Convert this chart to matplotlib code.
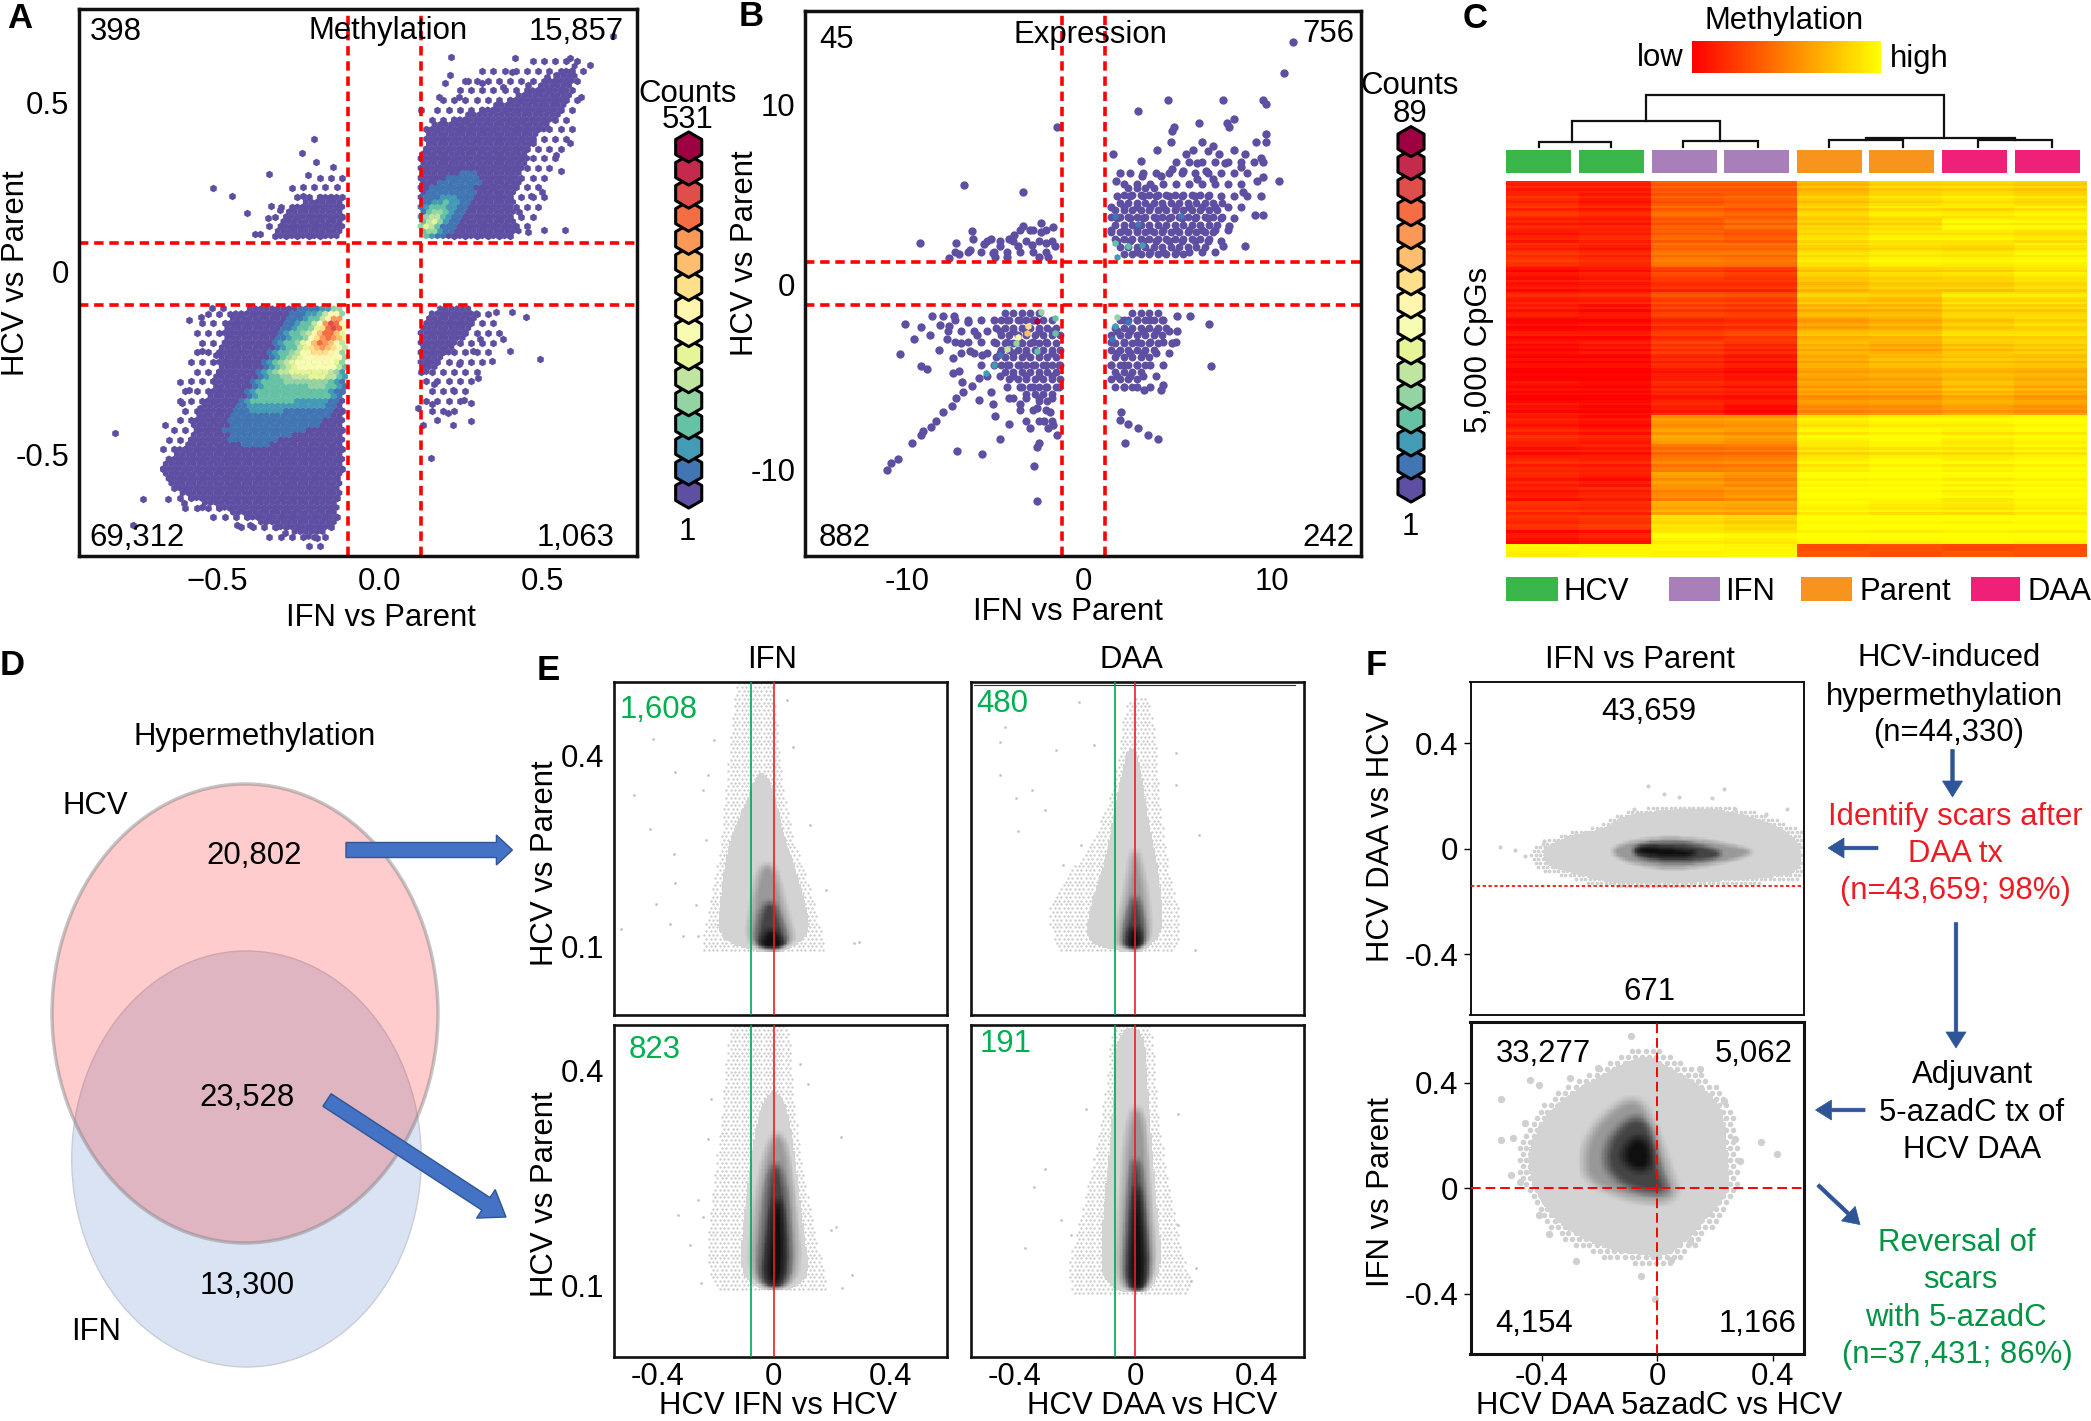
import numpy as np
import matplotlib
matplotlib.use("Agg")
import matplotlib.pyplot as plt
from matplotlib.colors import LinearSegmentedColormap
from matplotlib.patches import Ellipse, FancyArrow, Rectangle
from matplotlib.path import Path
from matplotlib.transforms import ScaledTranslation

plt.rcParams["font.family"] = ["Liberation Sans", "DejaVu Sans"]

W, H = 2091, 1421

# ---- panel A: density regions, (colour level, outline)
a_regions = [
    (0, [(-0.11, -0.094), (-0.446, -0.094), (-0.475, -0.153), (-0.49, -0.224), (-0.517, -0.33), (-0.567, -0.424),
         (-0.60, -0.494), (-0.66, -0.535), (-0.673, -0.576), (-0.61, -0.635), (-0.503, -0.676), (-0.375, -0.712),
         (-0.262, -0.741), (-0.198, -0.765), (-0.11, -0.706)]),
    (1, [(-0.177, -0.094), (-0.276, -0.094), (-0.333, -0.224), (-0.404, -0.341), (-0.475, -0.424), (-0.475, -0.465),
         (-0.404, -0.518), (-0.291, -0.471), (-0.105, -0.412), (-0.105, -0.094)]),
    (3, [(-0.156, -0.094), (-0.248, -0.129), (-0.305, -0.224), (-0.376, -0.329), (-0.425, -0.388), (-0.333, -0.388),
         (-0.105, -0.359), (-0.105, -0.094)]),
    (5, [(-0.135, -0.094), (-0.205, -0.153), (-0.276, -0.247), (-0.333, -0.306), (-0.105, -0.318), (-0.105, -0.094)]),
    (7, [(-0.128, -0.1), (-0.191, -0.165), (-0.262, -0.247), (-0.291, -0.276), (-0.205, -0.3), (-0.105, -0.276)]),
    (10, [(-0.128, -0.1), (-0.184, -0.165), (-0.227, -0.224), (-0.177, -0.241), (-0.105, -0.2)]),
    (12, [(-0.123, -0.104), (-0.177, -0.153), (-0.213, -0.2), (-0.184, -0.224), (-0.105, -0.165)]),
    (15, [(-0.128, -0.106), (-0.163, -0.141), (-0.142, -0.171), (-0.105, -0.141)]),
    (0, [(0.128, 0.094), (0.446, 0.094), (0.404, 0.176), (0.446, 0.294), (0.475, 0.388), (0.56, 0.447), (0.602, 0.541),
         (0.613, 0.612), (0.531, 0.559), (0.39, 0.494), (0.248, 0.447), (0.128, 0.424)]),
    (1, [(0.128, 0.1), (0.227, 0.1), (0.319, 0.271), (0.305, 0.304), (0.191, 0.276), (0.128, 0.224)]),
    (3, [(0.128, 0.1), (0.17, 0.1), (0.248, 0.212), (0.227, 0.235), (0.163, 0.2), (0.128, 0.153)]),
    (7, [(0.132, 0.1), (0.156, 0.118), (0.191, 0.176), (0.17, 0.182), (0.132, 0.135)]),
    (0, [(-0.109, 0.094), (-0.319, 0.094), (-0.319, 0.129), (-0.262, 0.2), (-0.177, 0.224), (-0.12, 0.235), (-0.109, 0.165)]),
    (0, [(0.128, -0.094), (0.333, -0.094), (0.262, -0.188), (0.191, -0.247), (0.128, -0.318)]),
]
# thin fringes round the solid regions
a_fringes = [
    [(-0.109, -0.094), (-0.56, -0.094), (-0.58, -0.2), (-0.6, -0.33), (-0.66, -0.47), (-0.69, -0.56), (-0.64, -0.66), (-0.5, -0.71),
     (-0.37, -0.75), (-0.25, -0.78), (-0.19, -0.8), (-0.109, -0.72)],
    [(0.128, 0.094), (0.47, 0.094), (0.52, 0.25), (0.58, 0.35), (0.62, 0.52), (0.64, 0.6), (0.58, 0.63), (0.42, 0.6), (0.25, 0.57),
     (0.2, 0.5), (0.128, 0.48)],
    [(-0.109, 0.094), (-0.38, 0.094), (-0.27, 0.24), (-0.14, 0.3), (-0.109, 0.3)],
    [(0.128, -0.094), (0.42, -0.094), (0.33, -0.28), (0.24, -0.42), (0.128, -0.44)],
]
a_points_x = [-0.514, -0.453, -0.408, -0.34, -0.239, -0.201, -0.194, -0.142, -0.22, -0.269, -0.333, -0.305, -0.344, -0.383, -0.368, -0.234,
              0.723, 0.652, 0.588, 0.418, 0.222, 0.411, 0.22, 0.276, 0.319, 0.205, 0.184, 0.128, 0.248, 0.517, 0.623, 0.588, 0.546, 0.56,
              0.475, 0.503, 0.468, 0.432, 0.574, 0.51, 0.46, 0.383, 0.46, 0.546,
              -0.815, -0.73, -0.758, -0.662, -0.614, -0.588, -0.55, -0.517, -0.482, -0.546, -0.503, -0.588, -0.609, -0.553, -0.397, -0.439,
              -0.29, -0.319, -0.191, -0.546, -0.602, -0.652,
              0.496, 0.404, 0.383, 0.453, 0.411, 0.361, 0.305, 0.347, 0.283, 0.283, 0.227, 0.213, 0.163, 0.12, 0.135, 0.159, 0.262, 0.227,
              0.17, 0.312, 0.29, 0.248]
a_points_y = [0.247, 0.224, 0.174, 0.286, 0.347, 0.385, 0.321, 0.306, 0.282, 0.247, 0.194, 0.182, 0.159, 0.112, 0.112, 0.224,
              0.682, 0.598, 0.618, 0.62, 0.621, 0.579, 0.571, 0.553, 0.547, 0.547, 0.506, 0.471, 0.506, 0.565, 0.506, 0.374, 0.341, 0.294,
              0.376, 0.235, 0.224, 0.176, 0.124, 0.124, 0.118, 0.535, 0.541, 0.571,
              -0.459, -0.647, -0.724, -0.435, -0.312, -0.135, -0.124, -0.1, -0.1, -0.224, -0.235, -0.335, -0.371, -0.388, -0.724, -0.724,
              -0.747, -0.729, -0.759, -0.671, -0.659, -0.647,
              -0.247, -0.224, -0.188, -0.124, -0.112, -0.112, -0.3, -0.253, -0.371, -0.424, -0.435, -0.4, -0.376, -0.388, -0.435, -0.529,
              -0.365, -0.335, -0.318, -0.188, -0.224, -0.259]

# ---- panel B
b_regions = [
    [(1.34, 1.3), (6.44, 1.52), (7.2, 3.1), (7.95, 4.2), (6.7, 5.4), (4.2, 5.3), (2.65, 5.6), (1.34, 4.9)],
    [(-4.92, -1.43), (-1.26, -1.43), (-1.26, -5.07), (-1.64, -6.43), (-2.65, -6.89), (-3.66, -5.75), (-4.92, -4.61),
     (-4.92, -3.25), (-5.18, -2.34)],
    [(1.34, -1.43), (4.43, -1.43), (4.92, -2.57), (3.66, -3.93), (3.16, -5.3), (2.4, -6.09), (1.34, -5.98)],
]
b_sparse = [
    [(-7.9, -1.4), (-1.3, -1.4), (-1.3, -8), (-3, -8.2), (-4.6, -6.2), (-6, -4.5), (-8, -3)],
    [(1.34, 1.3), (8, 1.5), (8.4, 3.5), (9.3, 5.5), (9.5, 7.2), (8, 7.3), (6, 7.6), (4, 6.4), (2, 6.2), (1.34, 5)],
    [(1.34, -1.4), (5, -1.4), (5.3, -3.3), (4, -5.6), (3, -6.2), (1.34, -6.2)],
    [(-8, 1.45), (-1.3, 1.45), (-1.3, 3.3), (-3.5, 3.3), (-6, 2.3)],
]
b_points = [(11.44, 13.5), (10.96, 11.77), (4.57, 10.27), (7.58, 10.27), (9.8, 10.27), (9.97, 10.05), (2.95, 9.64), (6.31, 8.98),
            (4.92, 8.75), (4.8, 8.52), (7.83, 8.98), (8.2, 9.18), (7.95, 8.75), (9.95, 8.34), (9.97, 7.93), (9.42, 7.93), (4.72, 7.93),
            (6.44, 7.89), (7.07, 7.7), (5.93, 7.48), (5.56, 7.27), (3.96, 7.48), (1.57, 7.27), (3.08, 6.84), (8.2, 7.48), (8.84, 7.27),
            (7.4, 7.27), (9.72, 7.05), (9.8, 6.82), (10.68, 5.77), (9.8, 5.98), (9.47, 5.77), (7.7, 6.75), (6.69, 6.3), (6.19, 6.75),
            (8.59, 6.52), (8.71, 5.16), (9.72, 4.93), (9.34, 3.84), (9.8, 3.84), (7.95, 3.23), (8.84, 2.14), (7.58, 2.14), (1.94, 6.2),
            (1.74, 5.77), (3.16, 6.02), (4.8, 6.41), (4.17, 6.02), (5.43, 6.3), (7.07, 5.84), (6.19, 5.84),
            (-1.54, 8.77), (-6.64, 5.55), (-3.41, 5.11), (-9.09, 2.32), (-7.07, 2.32), (-6.19, 2.98), (-6.14, 2.55), (-5.18, 2.55),
            (-3.41, 3.23), (-2.4, 3.39), (-1.77, 3.2), (-4.17, 2.55), (-4.67, 2.14), (-7.45, 1.48), (-6.94, 1.7), (-6.31, 1.93),
            (-5.56, 2.25), (-4.92, 1.52), (-4.29, 1.52), (-3.66, 2.14), (-2.9, 2.2), (-2.4, 2.89), (-2.02, 1.52), (-1.64, 2.14),
            (-2.53, 1.52), (-3.91, 2.77), (-3.03, 3.0), (-2.15, 2.32), (-5.05, 1.75),
            (-10.91, -10.34), (-10.66, -9.91), (-10.28, -9.7), (-9.52, -8.84), (-9.02, -8.39), (-8.89, -8.14), (-8.46, -7.91),
            (-8.21, -7.57), (-7.78, -7.11), (-7.32, -6.77), (-7.07, -6.32), (-6.69, -5.98), (-6.19, -5.64), (-5.81, -5.18),
            (-9.9, -2.18), (-9.04, -2.39), (-9.39, -3.02), (-10.15, -3.89), (-9.04, -4.52), (-8.66, -4.73), (-8.51, -2.8), (-8.0, -3.64),
            (-7.27, -4.09), (-7.25, -4.95), (-6.94, -4.84), (-6.77, -5.41), (-8.41, -1.73), (-7.83, -1.73), (-7.2, -1.73), (-7.95, -2.23),
            (-7.45, -2.34), (-7.58, -3.02), (-6.82, -3.25), (-6.44, -2.11), (-6.31, -3.7), (-5.93, -2.8), (-5.68, -3.93), (-5.81, -6.43),
            (-5.18, -5.98), (-5.05, -6.66), (-4.92, -7.34), (-4.17, -6.32), (-4.17, -7.75), (-4.67, -8.61), (-7.02, -9.25), (-5.66, -9.45),
            (-2.65, -9.05), (-2.53, -8.82), (-2.78, -10.11), (-2.65, -12.05), (-3.03, -7.98), (-2.02, -7.98), (-1.52, -8.39), (-2.27, -7.57),
            (-1.77, -7.8), (-3.54, -6.66), (-2.65, -6.89), (-1.89, -7.11),
            (6.82, -2.18), (6.94, -4.52), (5.81, -1.73), (5.05, -1.73), (5.05, -2.61), (4.8, -3.25), (4.29, -5.57), (4.22, -5.86),
            (3.28, -5.86), (4.04, -8.61), (3.46, -8.39), (2.95, -7.98), (2.35, -7.75), (1.94, -7.52), (1.97, -7.11), (2.2, -8.82)]
# hot cells: x, y, colour level
b_hot_cells = [(-5.43, -4.95, 2), (-5.0, -4.5, 2), (-4.67, -3.93, 1), (-4.29, -3.59, 5), (-3.79, -3.25, 4), (-3.66, -2.91, 8),
               (-3.2, -2.68, 10), (-3.1, -2.34, 9), (-2.65, -2.05, 15), (-2.4, -1.55, 4), (-1.64, -1.89, 3), (-1.64, -2.68, 3),
               (-2.65, -3.7, 3), (1.64, 2.32, 3), (2.4, 2.14, 3), (3.16, 2.2, 2), (1.77, 1.52, 2), (2.95, 3.34, 1), (5.3, 3.8, 1),
               (1.64, 3.8, 1), (1.77, -1.84, 4), (1.64, -2.34, 2), (1.52, -3.02, 1), (2.4, -2.11, 1)]

# ---- panel C: heatmap bands, 0 = low (red), 1 = high (yellow)
c_columns = ["HCV", "HCV", "IFN", "IFN", "Parent", "Parent", "DAA", "DAA"]
c_band_heights = [31] * 19 + [36] * 9 + [17, 17]
c_bands = [
    [.12, .12, .36, .36, .72, .82, .84, .80], [.16, .10, .34, .38, .78, .86, .90, .86], [.18, .14, .40, .36, .82, .90, .88, .92],
    [.12, .10, .34, .40, .80, .84, .96, .94], [.10, .14, .38, .34, .86, .92, .92, .88], [.16, .12, .42, .42, .84, .88, .86, .92],
    [.20, .16, .46, .44, .90, .95, .94, .96], [.04, .08, .24, .20, .78, .82, .84, .90], [.08, .10, .18, .18, .74, .80, .80, .86],
    [.12, .14, .28, .26, .78, .76, .88, .88], [.10, .06, .24, .22, .70, .72, .82, .82], [.02, .04, .16, .18, .62, .68, .78, .84],
    [.06, .06, .20, .24, .72, .74, .84, .84], [.04, .08, .22, .16, .70, .66, .76, .80], [.02, .02, .14, .08, .66, .72, .76, .74],
    [.00, .00, .10, .06, .64, .68, .72, .70], [.04, .02, .14, .10, .62, .64, .74, .68], [.00, .00, .10, .08, .58, .60, .68, .62],
    [.06, .02, .12, .04, .54, .56, .62, .58], [.10, .06, .58, .60, .92, .96, .96, 1.0], [.14, .10, .62, .58, .94, .98, .92, .96],
    [.08, .10, .44, .46, .88, .92, .90, .94], [.14, .12, .48, .50, .92, .98, .94, .98], [.12, .08, .60, .54, .98, 1.0, .96, .98],
    [.08, .12, .52, .56, 1.0, 1.0, .94, 1.0], [.18, .16, .66, .64, .96, .92, .90, .95], [.16, .20, .86, .82, 1.0, 1.0, .98, 1.0],
    [.06, .10, .96, .94, 1.0, .98, 1.0, .98], [.97, .96, .98, .96, .30, .32, .28, .30], [.94, .98, .96, .98, .34, .30, .34, .32],
]
# fine row stripes laid over each band, one group of five per band
c_stripes = [.03, -.02, .05, -.04, .01, -.03, .06, .00, -.05, .02, .04, -.06, .02, .05, -.01, -.02, .03, -.05, .06, .01,
             .00, -.04, .03, .05, -.03, .04, -.02, -.06, .02, .06, -.05, .01, .05, -.01, -.03, .02, -.04, .06, .03, -.02,
             .05, -.03, .00, .04, -.06, .01, .06, -.02, -.04, .03, -.01, .05, -.05, .02, .04, .03, -.04, .01, .06, -.03,
             -.02, .04, .06, -.05, .00, .05, -.03, .02, -.06, .03, .01, -.02, .05, -.04, .04, .06, -.01, -.05, .03, .00,
             -.03, .05, .02, -.06, .04, .01, .06, -.04, -.02, .03, .05, -.01, .02, -.05, .06, -.03, .04, .00, -.04, .02,
             .03, -.05, .06, .01, -.02, .04, -.03, .05, -.06, .02, .00, .06, -.04, .03, -.01, .05, .02, -.05, .04, -.02,
             .06, -.03, .01, .05, -.04, .03, .00, -.02, .06, -.05, .04, .01, -.03, .05, .02, -.06, .03, .04, -.01, -.04,
             .02, .05, -.05, .00, .06]
c_group_colors = {"HCV": "#39b54a", "IFN": "#a87fb9", "Parent": "#f7941d", "DAA": "#ee2078"}

# ---- panel D
d_counts = ["20,802", "23,528", "13,300"]

# ---- panel E: grey density regions, outermost (sparse) first, then light to dark
e_tl = [
    [(-0.207, 0.102), (0.161, 0.102), (0.153, 0.125), (0.109, 0.212), (0.056, 0.275), (0.021, 0.362), (0.004, 0.449), (-0.014, 0.52),
     (-0.119, 0.52), (-0.137, 0.441), (-0.154, 0.354), (-0.172, 0.259), (-0.207, 0.18), (-0.233, 0.125)],
    [(-0.198, 0.102), (0.144, 0.102), (0.091, 0.212), (0.039, 0.275), (0.012, 0.33), (-0.02, 0.375), (-0.055, 0.385), (-0.09, 0.34),
     (-0.154, 0.275), (-0.181, 0.196)],
    [(-0.093, 0.102), (0.082, 0.102), (0.039, 0.165), (0.004, 0.236), (-0.049, 0.236), (-0.075, 0.173)],
    [(-0.067, 0.102), (0.056, 0.102), (0.03, 0.141), (0, 0.18), (-0.04, 0.173), (-0.058, 0.133)],
    [(-0.049, 0.102), (0.039, 0.102), (0.021, 0.125), (-0.014, 0.137), (-0.04, 0.121)],
]
e_tr = [
    [(-0.162, 0.102), (0.1, 0.102), (0.142, 0.149), (0.091, 0.236), (0.066, 0.354), (0.049, 0.48), (-0.036, 0.48), (-0.061, 0.354),
     (-0.146, 0.259), (-0.281, 0.18), (-0.23, 0.108)],
    [(-0.146, 0.102), (0.091, 0.102), (0.091, 0.196), (0.041, 0.315), (0.02, 0.39), (-0.01, 0.43), (-0.036, 0.395), (-0.069, 0.315),
     (-0.095, 0.244), (-0.162, 0.149)],
    [(-0.061, 0.102), (0.058, 0.102), (0.032, 0.212), (-0.002, 0.275), (-0.027, 0.196), (-0.052, 0.141)],
    [(-0.044, 0.102), (0.044, 0.102), (0.024, 0.165), (-0.002, 0.196), (-0.027, 0.149)],
    [(-0.027, 0.102), (0.032, 0.102), (0.015, 0.133), (-0.01, 0.141), (-0.024, 0.117)],
]
e_bl = [
    [(-0.137, 0.1), (0.144, 0.1), (0.17, 0.114), (0.109, 0.212), (0.056, 0.353), (0.047, 0.472), (-0.137, 0.472), (-0.154, 0.388),
     (-0.189, 0.248), (-0.225, 0.142)],
    [(-0.119, 0.1), (0.135, 0.1), (0.1, 0.191), (0.065, 0.318), (0.03, 0.375), (-0.03, 0.375), (-0.067, 0.318), (-0.105, 0.2)],
    [(-0.084, 0.1), (0.091, 0.1), (0.074, 0.226), (0.039, 0.318), (-0.014, 0.318), (-0.067, 0.212)],
    [(-0.058, 0.1), (0.065, 0.1), (0.047, 0.226), (0.021, 0.276), (-0.014, 0.276), (-0.04, 0.177)],
    [(-0.032, 0.107), (0.039, 0.107), (0.035, 0.212), (0.004, 0.234), (-0.014, 0.177)],
]
e_br = [
    [(-0.179, 0.096), (0.193, 0.096), (0.125, 0.177), (0.058, 0.353), (0.049, 0.472), (-0.069, 0.472), (-0.095, 0.353), (-0.162, 0.212),
     (-0.213, 0.142)],
    [(-0.103, 0.096), (0.1, 0.096), (0.066, 0.248), (0.041, 0.388), (0.032, 0.465), (-0.061, 0.465), (-0.069, 0.353), (-0.112, 0.177)],
    [(-0.061, 0.096), (0.074, 0.096), (0.049, 0.248), (0.032, 0.353), (-0.019, 0.353), (-0.044, 0.212)],
    [(-0.036, 0.096), (0.058, 0.096), (0.032, 0.226), (0.015, 0.283), (-0.01, 0.283), (-0.027, 0.177)],
    [(-0.024, 0.1), (0.041, 0.1), (0.024, 0.212), (0.007, 0.255), (-0.007, 0.212)],
]
e_tl_pts = [(-0.526, 0.135), (-0.479, 0.346), (-0.414, 0.435), (-0.426, 0.293), (-0.339, 0.383), (-0.344, 0.253), (-0.339, 0.207),
            (-0.404, 0.175), (-0.312, 0.125), (-0.356, 0.143), (-0.268, 0.173), (-0.225, 0.378), (-0.242, 0.354), (0.293, 0.115),
            (0.275, 0.113), (0.065, 0.421), (0.047, 0.496), (0.179, 0.196), (0.126, 0.299), (-0.207, 0.433), (-0.233, 0.275), (-0.26, 0.125)]
e_tr_pts = [(-0.447, 0.429), (-0.447, 0.378), (-0.43, 0.453), (-0.394, 0.342), (-0.343, 0.354), (-0.298, 0.323), (-0.387, 0.289),
            (-0.264, 0.417), (-0.186, 0.492), (-0.137, 0.425), (0.134, 0.413), (0.134, 0.362), (0.21, 0.283), (0.198, 0.103),
            (-0.239, 0.236), (-0.179, 0.267)]
e_bl_pts = [(-0.33, 0.205), (-0.289, 0.163), (-0.26, 0.226), (-0.251, 0.111), (0.232, 0.314), (0.214, 0.188), (0.267, 0.122),
            (0.235, 0.104), (-0.242, 0.202), (-0.225, 0.311), (-0.216, 0.367), (0.118, 0.388), (0.091, 0.416), (0.196, 0.184)]
e_br_pts = [(-0.365, 0.16), (-0.335, 0.244), (-0.298, 0.269), (-0.247, 0.198), (-0.213, 0.177), (0.142, 0.346), (0.142, 0.191),
            (0.184, 0.114), (0.201, 0.132), (-0.162, 0.353)]
e_counts = ["1,608", "480", "823", "191"]

# ---- panel F
f_top = [
    [(-0.402, 0), (-0.295, 0.057), (-0.18, 0.075), (-0.115, 0.132), (0.082, 0.151), (0.213, 0.151), (0.361, 0.113), (0.5, 0.038),
     (0.5, -0.094), (0.377, -0.113), (0.082, -0.132), (-0.164, -0.132), (-0.295, -0.094), (-0.393, -0.066)],
    [(-0.172, -0.009), (-0.098, 0.028), (0.082, 0.047), (0.328, 0), (0.328, -0.028), (0.082, -0.085), (-0.098, -0.057)],
    [(-0.09, -0.009), (-0.066, 0.019), (0.082, 0.028), (0.23, -0.009), (0.213, -0.038), (0.066, -0.057), (-0.066, -0.038)],
    [(-0.082, -0.009), (-0.049, 0.009), (0.066, 0), (0.164, -0.015), (0.066, -0.038), (-0.049, -0.023)],
]
f_bottom = [
    [(-0.377, 0.306), (-0.213, 0.419), (-0.049, 0.513), (0.049, 0.457), (0.23, 0.334), (0.246, 0.098), (0.254, -0.015), (0.164, -0.128),
     (0.049, -0.26), (-0.049, -0.26), (-0.213, -0.223), (-0.361, -0.128), (-0.434, 0.004), (-0.459, 0.136)],
    [(-0.23, 0.23), (-0.098, 0.353), (-0.033, 0.306), (0.033, 0.098), (0.082, -0.053), (-0.082, -0.053), (-0.246, 0.023), (-0.262, 0.117)],
    [(-0.18, 0.174), (-0.082, 0.287), (-0.016, 0.23), (0, 0.079), (0.049, -0.025), (-0.082, -0.015), (-0.18, 0.06)],
    [(-0.131, 0.126), (-0.074, 0.211), (-0.016, 0.155), (-0.025, 0.06), (-0.098, 0.07)],
]
f_top_pts = [(-0.546, 0.006), (-0.492, -0.004), (-0.459, -0.028), (-0.033, 0.236), (0.025, 0.208), (0.074, 0.198), (0.23, 0.226),
             (0.189, 0.192), (0.451, 0.151), (-0.131, 0.113), (-0.082, 0.151), (0.27, 0.151), (0.377, 0.132), (-0.361, 0),
             (-0.393, 0.028), (-0.377, -0.038)]
f_bottom_pts = [(-0.541, 0.34), (-0.541, 0.183), (-0.508, 0.051), (-0.5, 0.192), (-0.443, 0.409), (-0.41, 0.391), (-0.09, 0.577),
                (-0.205, 0.457), (0.148, 0.453), (0.23, 0.33), (0.27, 0.187), (0.361, 0.177), (0.415, 0.132), (0.287, 0.104),
                (-0.41, -0.1), (-0.377, -0.175), (-0.282, -0.275), (-0.057, -0.332), (-0.008, -0.421), (0.049, -0.27),
                (0.115, -0.204), (-0.475, 0.023), (-0.459, 0.249), (-0.303, 0.419)]

spectral = plt.get_cmap("Spectral_r", 16)
PURPLE = spectral(0)
FS = 22.4
RED = "#ff0000"
ARROW = "#2e5597"

fig = plt.figure(figsize=(W / 100, H / 100), dpi=100)


def panel_axes(left, top, right, bottom, lw=2.5):
    ax = fig.add_axes([left / W, 1 - bottom / H, (right - left) / W, (bottom - top) / H])
    for s in ax.spines.values():
        s.set_linewidth(lw)
        s.set_color("#111111")
    ax.tick_params(length=0, labelsize=FS)
    return ax


def shift_labels(ax, dy_px):
    # the labels sit a little above or below the value they stand for
    off = ScaledTranslation(0, dy_px / 100, fig.dpi_scale_trans)
    for lab in ax.get_yticklabels():
        lab.set_transform(lab.get_transform() + off)


def smooth(outline, rounds=2):
    # corner cutting, so the hand read outlines do not look like polygons
    pts = np.array(outline, dtype=float)
    for _ in range(rounds):
        nxt = np.roll(pts, -1, axis=0)
        pts = np.column_stack([0.75 * pts + 0.25 * nxt, 0.25 * pts + 0.75 * nxt]).reshape(-1, 2)
    return pts


def lattice(ax, pitch):
    # hexagonal cell centres over the axes, in data units
    box = ax.get_window_extent()
    xs = np.arange(box.x0, box.x1, pitch)
    ys = np.arange(box.y0, box.y1, pitch * 0.866)
    gx, gy = np.meshgrid(xs, ys)
    gx[1::2] += pitch / 2
    data = ax.transData.inverted().transform(np.column_stack([gx.ravel(), gy.ravel()]))
    return data, gx.shape


def box_blur(a, n):
    kernel = np.ones(n) / n
    a = np.apply_along_axis(lambda r: np.convolve(r, kernel, mode="same"), 0, a)
    return np.apply_along_axis(lambda r: np.convolve(r, kernel, mode="same"), 1, a)


def fill_cells(ax, outlines, pitch, size, color, marker="h"):
    pts, _ = lattice(ax, pitch)
    keep = np.zeros(len(pts), dtype=bool)
    for outline in outlines:
        keep |= Path(smooth(outline)).contains_points(pts)
    ax.scatter(pts[keep, 0], pts[keep, 1], marker=marker, s=size, color=color, linewidths=0)


def grey_density(ax, regions, floor=None, blur=7):
    # four nested regions become one soft grey image
    pts, shape = lattice(ax, 1.5)
    count = np.zeros(len(pts))
    for outline in regions:
        count += Path(smooth(outline)).contains_points(pts)
    count = count.reshape(shape)
    d = box_blur(count, blur)
    d = np.maximum(d, np.where(count > 0, 1, 0))
    grey = np.interp(d, [1, 2, 3, 4], [0.83, 0.6, 0.27, 0.06])
    alpha = (d > 0.5).astype(float)
    if floor is not None:
        alpha[pts[:, 1].reshape(shape) < floor] = 0
    xy = pts.reshape(shape + (2,))
    rgba = np.dstack([grey, grey, grey, alpha])
    xl, yl = ax.get_xlim(), ax.get_ylim()
    ax.imshow(rgba, origin="lower", extent=[xy[0, 0, 0], xy[0, -1, 0], xy[0, 0, 1], xy[-1, 0, 1]], aspect="auto",
              interpolation="nearest", zorder=2)
    ax.set_xlim(xl)
    ax.set_ylim(yl)


def grown(outline, factor):
    pts = np.array(outline, dtype=float)
    mid = pts.mean(axis=0)
    return mid + (pts - mid) * factor


# ---- A
ax = panel_axes(79, 9, 637, 556)
ax.set_xlim(-0.926, 0.796)
ax.set_ylim(-0.812, 0.76)
fill_cells(ax, a_fringes, 11.2, 30, PURPLE)
pts, shape = lattice(ax, 5.6)
levels = np.full(len(pts), -1.0)
for level, outline in a_regions:
    inside = Path(smooth(outline, 1)).contains_points(pts)
    levels[inside] = np.maximum(levels[inside], level)
grid = levels.reshape(shape)
soft = box_blur(np.maximum(grid, 0), 3).ravel()
keep = levels >= 0
ax.scatter(pts[keep, 0], pts[keep, 1], marker="h", s=24, c=spectral(np.rint(soft[keep]).astype(int)), linewidths=0)
ax.scatter(a_points_x, a_points_y, marker="h", s=30, color=PURPLE, linewidths=0)
for v in (-0.097, 0.13):
    ax.axvline(v, color=RED, lw=2.6, ls=(0, (2.6, 1.6)))
for v in (0.088, -0.09):
    ax.axhline(v, color=RED, lw=2.6, ls=(0, (2.6, 1.6)))
ax.set_xticks([-0.5, 0, 0.505], ["\u22120.5", "0.0", "0.5"])
ax.set_yticks([0.49, 0.005, -0.52], ["0.5", "0", "-0.5"])
ax.tick_params(axis="x", pad=8)
ax.tick_params(axis="y", pad=7)

# ---- B
ax = panel_axes(805, 11, 1361, 556)
ax.set_xlim(-15.4, 15.2)
ax.set_ylim(-15.1, 15.2)
fill_cells(ax, b_sparse, 13, 34, PURPLE, marker="o")
fill_cells(ax, b_regions, 8.5, 32, PURPLE, marker="o")
ax.scatter([p[0] for p in b_points], [p[1] for p in b_points], marker="o", s=36, color=PURPLE, linewidths=0)
for x, y, level in b_hot_cells:
    ax.scatter([x], [y], marker="h", s=26, color=spectral(level), linewidths=0)
for v in (-1.24, 1.11):
    ax.axvline(v, color=RED, lw=2.6, ls=(0, (2.6, 1.6)))
for v in (1.25, -1.14):
    ax.axhline(v, color=RED, lw=2.6, ls=(0, (2.6, 1.6)))
ax.set_xticks([-9.8, -0.1, 10.3], ["-10", "0", "10"])
ax.set_yticks([10, 0, -10.3], ["10", "0", "-10"])
ax.tick_params(axis="x", pad=8)
ax.tick_params(axis="y", pad=7)

# ---- C
heat = LinearSegmentedColormap.from_list("heat", ["#ff0000", "#ff8000", "#ffff00"])
ax = panel_axes(1506, 181, 2087, 557.5, lw=0)
rows, edges = [], [0.0]
k = 0
for band, height in zip(c_bands, c_band_heights):
    pieces = 5 if height > 20 else 1
    for _ in range(pieces):
        step = c_stripes[k % len(c_stripes)]
        k += 1
        rows.append([min(max(v + step, 0), 1) if height > 20 else v for v in band])
        edges.append(edges[-1] + height / pieces)
ax.pcolormesh(np.arange(len(c_columns) + 1), edges, np.array(rows), cmap=heat, vmin=0, vmax=1)
ax.set_ylim(edges[-1], 0)
ax.set_xticks([])
ax.set_yticks([])
cbar = panel_axes(1691.6, 41, 1880, 73.5, lw=0)
cbar.imshow([np.linspace(0, 1, 200)], aspect="auto", cmap=heat)
cbar.set_xticks([])
cbar.set_yticks([])

# ---- E
e_panels = [
    (614, 682, 947, 1015, (-0.549, 0.595), (0.0, 0.524), e_tl, e_tl_pts, -0.08, 0.1),
    (971.3, 682, 1304.5, 1015, (-0.543, 0.56), (0.0, 0.524), e_tr, e_tr_pts, -0.066, 0.1),
    (614, 1025, 947, 1357.4, (-0.549, 0.595), (0.007, 0.47), e_bl, e_bl_pts, -0.08, 0.1),
    (971.3, 1025, 1304.5, 1357.4, (-0.543, 0.56), (0.007, 0.47), e_br, e_br_pts, -0.066, 0.096),
]
for i, (l, t, r, b, xlim, ylim, regions, pts, green_x, floor) in enumerate(e_panels):
    ax = panel_axes(l, t, r, b, lw=1.9)
    ax.set_xlim(*xlim)
    ax.set_ylim(*ylim)
    grey_density(ax, regions[1:], floor=floor)
    cells, _ = lattice(ax, 4.4)
    keep = Path(grown(smooth(regions[0]), 1.1)).contains_points(cells) & (cells[:, 1] > floor)
    ax.scatter(cells[keep, 0], cells[keep, 1], s=3, color="#cccccc", linewidths=0, zorder=1)
    ax.scatter([p[0] for p in pts], [p[1] for p in pts], s=4, color="#c4c4c4", linewidths=0)
    ax.axvline(green_x, color="#00a651", lw=1.2, zorder=4)
    ax.axvline(0, color="#ee1c25", lw=1.2, zorder=4)
    if i >= 2:
        ax.set_xticks([-0.4, 0, 0.4], ["-0.4", "0", "0.4"])
        ax.tick_params(axis="x", pad=3)
    else:
        ax.set_xticks([])
    if i in (0, 2):
        ax.set_yticks([0.1, 0.4], ["0.1", "0.4"])
        ax.tick_params(axis="y", pad=7)
        shift_labels(ax, 5)
    else:
        ax.set_yticks([])
    if i == 1:
        ax.plot([-0.535, 0.53], [0.52, 0.52], color="#333333", lw=0.8)

# ---- F
ax = panel_axes(1470.5, 682, 1803.7, 1015, lw=1.4)
ax.set_xlim(-0.648, 0.508)
ax.set_ylim(-0.63, 0.632)
cells, _ = lattice(ax, 4.5)
keep = Path(grown(smooth(f_top[0]), 1.1)).contains_points(cells) & (cells[:, 1] > -0.143)
ax.scatter(cells[keep, 0], cells[keep, 1], s=7, color="#d0d0d0", linewidths=0, zorder=1)
grey_density(ax, f_top, floor=-0.143, blur=5)
ax.scatter([p[0] for p in f_top_pts], [p[1] for p in f_top_pts], s=9, color="#d0d0d0", linewidths=0)
ax.axhline(-0.143, color=RED, lw=1.2, ls=(0, (2, 1.5)), zorder=4)
ax.set_xticks([])
ax.set_yticks([0.4, 0, -0.4], ["0.4", "0", "-0.4"])
ax.tick_params(axis="y", length=5, width=1, pad=4)

ax = panel_axes(1470.5, 1021.6, 1803.7, 1354, lw=2.2)
ax.set_xlim(-0.648, 0.508)
ax.set_ylim(-0.628, 0.632)
cells, _ = lattice(ax, 7)
keep = Path(grown(smooth(f_bottom[0]), 1.1)).contains_points(cells)
ax.scatter(cells[keep, 0], cells[keep, 1], s=16, color="#d0d0d0", linewidths=0, zorder=1)
grey_density(ax, f_bottom, blur=9)
ax.scatter([p[0] for p in f_bottom_pts], [p[1] for p in f_bottom_pts], s=28, color="#d0d0d0", linewidths=0)
ax.axhline(0, color=RED, lw=1.4, ls=(0, (5, 2.5)), zorder=4)
ax.axvline(0, color=RED, lw=1.4, ls=(0, (5, 2.5)), zorder=4)
ax.set_xticks([-0.4, 0, 0.4], ["-0.4", "0", "0.4"])
ax.set_yticks([0.4, 0, -0.4], ["0.4", "0", "-0.4"])
ax.tick_params(axis="y", length=5, width=1, pad=4)
ax.tick_params(axis="x", length=5, width=1, pad=0.5)

# ---- overlay in picture pixels: text, diagram, legends
over = fig.add_axes([0, 0, 1, 1], zorder=10)
over.set_xlim(0, W)
over.set_ylim(H, 0)
over.axis("off")


def txt(x, y, s, size=FS, color="black", rot=0, weight="normal", ha="center"):
    over.text(x, y + 2.5, s, fontsize=size, color=color, rotation=rot, fontweight=weight, ha=ha, va="center")


for x, y, s in [(20, 16, "A"), (751, 14, "B"), (1475, 16, "C"), (12, 663, "D"), (548, 668, "E"), (1376, 663, "F")]:
    txt(x, y, s, size=25, weight="bold")

# A / B text
for x, y, s in [(116, 29, "398"), (388, 29, "Methylation"), (576, 29, "15,857"), (137, 535, "69,312"), (576, 535, "1,063"),
                (837, 37, "45"), (1090, 32, "Expression"), (1328, 31, "756"), (845, 535, "882"), (1328, 535, "242")]:
    txt(x, y, s)
txt(16, 271, "HCV vs Parent", rot=90)
txt(381, 616, "IFN vs Parent")
txt(745, 251, "HCV vs Parent", rot=90)
txt(1068, 610, "IFN vs Parent")

# hexagon count scales
for cx, top, bottom, lab_y, maxv, name_y in [(688.7, 147, 493, 530, "531", 91), (1411, 141.6, 487, 524.5, "89", 84)]:
    ys = np.linspace(bottom, top, 16)
    over.scatter([cx] * 16, ys, marker="h", s=470, c=[spectral(i) for i in range(16)], edgecolors="black", linewidths=2.2)
    txt(cx - 1, name_y, "Counts")
    txt(cx - 1, name_y + 27, maxv)
    txt(cx - 1, lab_y, "1")

# C annotations
for k, group in enumerate(c_columns):
    x0 = 1506.4 + k * 72.6
    over.add_patch(Rectangle((x0, 149.5), 65, 23.5, fc=c_group_colors[group], ec="none"))
txt(1784.5, 19, "Methylation")
txt(1660, 56, "low")
txt(1919.5, 57, "high")
txt(1479.4, 347, "5,000 CpGs", rot=90)
for x0, x1, tx, group in [(1506.4, 1557.5, 1563.7, "HCV"), (1669, 1720, 1725.6, "IFN"), (1801, 1852, 1860, "Parent"), (1970.5, 2020, 2027.4, "DAA")]:
    over.add_patch(Rectangle((x0, 577), x1 - x0, 24, fc=c_group_colors[group], ec="none"))
    txt(tx, 589, group, ha="left")
tree = [
    ([1538.8, 1538.8, 1611.4, 1611.4], [147, 142, 142, 147]),
    ([1683.3, 1683.3, 1757.6, 1757.6], [147, 141, 141, 147]),
    ([1829.4, 1829.4, 1903.3, 1903.3], [147, 140.4, 140.4, 147]),
    ([1978, 1978, 2052.3, 2052.3], [147, 140.4, 140.4, 147]),
    ([1571.6, 1571.6, 1720, 1720], [142, 121, 121, 141]),
    ([1866, 1866, 2015, 2015], [140.4, 138, 138, 140.4]),
    ([1645.5, 1645.5, 1943.5, 1943.5], [121, 95.3, 95.3, 138]),
]
for xs, ys in tree:
    over.plot(xs, ys, color="#111111", lw=1.6, solid_joinstyle="miter")

# D venn
over.add_patch(Ellipse((246.5, 1159), 349.5, 416, fc="#dae3f3", ec="#c8cdd6", lw=1))
over.add_patch(Ellipse((245, 1013.5), 386, 459, fc=(0.98, 0, 0, 0.2), ec="none"))
over.add_patch(Ellipse((245, 1013.5), 386, 459, fc="none", ec=(0.5, 0.5, 0.5, 0.45), lw=2.5))
txt(255, 735, "Hypermethylation")
txt(95, 803, "HCV")
txt(254, 853, d_counts[0])
txt(247, 1095, d_counts[1])
txt(247, 1284, d_counts[2])
txt(96, 1329, "IFN")
for x0, y0, x1, y1, wd, hw, hl in [(346, 850, 512.4, 850, 15, 30, 16), (327, 1100, 506, 1217, 15, 34, 24)]:
    over.add_patch(FancyArrow(x0, y0, x1 - x0, y1 - y0, width=wd, head_width=hw, head_length=hl,
                              length_includes_head=True, fc="#4472c4", ec="#2f5597", lw=1))

# E text, the bottom labels kept just inside the picture edge
txt(772, 658, "IFN")
txt(1131, 658, "DAA")
txt(778.5, 1404, "HCV IFN vs HCV")
txt(1152.4, 1404, "HCV DAA vs HCV")
txt(545, 861, "HCV vs Parent", rot=90)
txt(545, 1192, "HCV vs Parent", rot=90)
for (x, y), s in zip([(658.6, 708), (1002, 701), (655, 1048), (1006, 1042)], e_counts):
    txt(x, y, s, color="#00b050")

# F text
txt(1640, 658, "IFN vs Parent")
txt(1381, 834, "HCV DAA vs HCV", rot=90)
txt(1381, 1190, "IFN vs Parent", rot=90)
txt(1659.5, 1404, "HCV DAA 5azadC vs HCV")
for x, y, s in [(1649, 710, "43,659"), (1649, 989, "671"), (1543, 1051, "33,277"), (1754, 1051, "5,062"), (1534, 1322, "4,154"),
                (1758, 1322, "1,166")]:
    txt(x, y, s)
for x, y, s, c in [(1949, 656, "HCV-induced", "black"), (1944.5, 694, "hypermethylation", "black"), (1949, 731, "(n=44,330)", "black"),
                   (1955, 815, "Identify scars after", "#ed1c24"), (1955, 851.5, "DAA tx", "#ed1c24"), (1955, 889, "(n=43,659; 98%)", "#ed1c24"),
                   (1972, 1073, "Adjuvant", "black"), (1972, 1110.6, "5-azadC tx of", "black"), (1972, 1147.5, "HCV DAA", "black"),
                   (1957, 1240.5, "Reversal of", "#009444"), (1960.6, 1278, "scars", "#009444"), (1956, 1315.6, "with 5-azadC", "#009444"),
                   (1957, 1353, "(n=37,431; 86%)", "#009444")]:
    txt(x, y, s, color=c)
for x0, y0, x1, y1 in [(1952.5, 749.5, 1952.5, 797), (1956, 922.6, 1956, 1048), (1878, 848, 1828, 848), (1865, 1110, 1815.5, 1110),
                       (1818, 1185, 1860, 1224.6)]:
    over.add_patch(FancyArrow(x0, y0, x1 - x0, y1 - y0, width=3.5, head_width=20, head_length=16,
                              length_includes_head=True, fc=ARROW, ec=ARROW, lw=0.5))

fig.savefig("out.png", dpi=100)
